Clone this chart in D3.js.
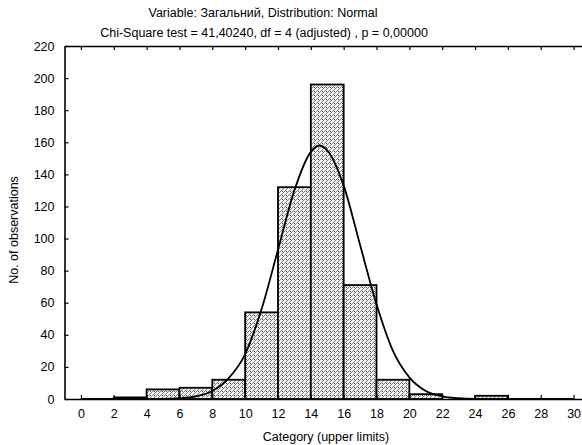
<!DOCTYPE html>
<html>
<head>
<meta charset="utf-8">
<script src="https://cdn.jsdelivr.net/npm/d3@7"></script>
<style>
  body { margin: 0; background: #fff; }
  text { font-family: "Liberation Sans", Arial, sans-serif; }
</style>
</head>
<body>
<svg id="chart" width="582" height="445"></svg>
<script>
// histogram bins (upper limits) and counts
const binEdges = [0, 2, 4, 6, 8, 10, 12, 14, 16, 18, 20, 22, 24, 26, 28, 30];
const counts = [0, 1, 6, 7, 12, 54, 132, 196, 71, 12, 3, 0, 2, 0, 0];

// expected normal curve
const curveX = [0, 4, 5, 6, 7, 8, 9, 10, 11, 12, 13, 14, 14.5, 15, 16, 17, 18, 19, 20, 21, 22, 23, 24, 26, 30];
const curveY = [0, 0, 0.1, 0.5, 1.7, 5, 13, 28, 56, 93, 130, 154, 158, 155, 133, 96, 59, 30, 13.5, 5, 1.7, 0.5, 0.1, 0, 0];

const xTicks = [0, 2, 4, 6, 8, 10, 12, 14, 16, 18, 20, 22, 24, 26, 28, 30];
const yTicks = [0, 20, 40, 60, 80, 100, 120, 140, 160, 180, 200, 220];

const title1 = 'Variable: Загальний, Distribution: Normal';
const title2 = 'Chi-Square test = 41,40240, df = 4 (adjusted) , p = 0,00000';

const svg = d3.select('#chart');

const x = d3.scaleLinear().domain([-1, 31]).range([64.5, 590]);
const y = d3.scaleLinear().domain([0, 220]).range([399, 46]);

// hatch pattern for bars
const defs = svg.append('defs');
const pat = defs.append('pattern')
  .attr('id', 'hatch')
  .attr('patternUnits', 'userSpaceOnUse')
  .attr('width', 4)
  .attr('height', 4);
pat.append('rect').attr('width', 4).attr('height', 4).attr('fill', '#f2f2f2');
pat.append('path')
  .attr('d', 'M-1,1 l2,-2 M0,4 l4,-4 M3,5 l2,-2')
  .attr('stroke', '#666')
  .attr('stroke-width', 0.8);
pat.append('rect').attr('x', 2).attr('y', 3).attr('width', 1).attr('height', 1).attr('fill', '#444');

// bars
svg.append('g')
  .selectAll('rect')
  .data(counts)
  .enter()
  .append('rect')
  .attr('x', (d, i) => x(binEdges[i]))
  .attr('y', d => y(d))
  .attr('width', (d, i) => x(binEdges[i + 1]) - x(binEdges[i]))
  .attr('height', d => y(0) - y(d))
  .attr('fill', 'url(#hatch)')
  .attr('stroke', '#000')
  .attr('stroke-width', 1.8)
  .style('display', d => d > 0 ? null : 'none');

// normal curve
const pts = curveX.map((v, i) => [v, curveY[i]]);
svg.append('path')
  .datum(pts)
  .attr('fill', 'none')
  .attr('stroke', '#000')
  .attr('stroke-width', 1.8)
  .attr('d', d3.line()
    .x(d => x(d[0]))
    .y(d => y(d[1]))
    .curve(d3.curveMonotoneX));

// axes (ticks point inward)
svg.append('g')
  .attr('transform', 'translate(0,' + y(0) + ')')
  .call(d3.axisBottom(x).tickValues(xTicks).tickSizeInner(-4).tickSizeOuter(0).tickPadding(10))
  .call(g => g.selectAll('text').attr('font-size', '12.5px').attr('fill', '#000').attr('font-family', '"Liberation Sans", Arial, sans-serif'));

svg.append('g')
  .attr('transform', 'translate(0,' + y(220) + ')')
  .call(d3.axisTop(x).tickValues(xTicks).tickSizeInner(-4).tickSizeOuter(0).tickFormat(''));

svg.append('g')
  .attr('transform', 'translate(' + x(-1) + ',0)')
  .call(d3.axisLeft(y).tickValues(yTicks).tickSizeInner(-4).tickSizeOuter(0).tickPadding(10))
  .call(g => g.selectAll('text').attr('font-size', '12.5px').attr('fill', '#000').attr('font-family', '"Liberation Sans", Arial, sans-serif'));

svg.selectAll('.domain').attr('stroke', '#000').attr('stroke-width', 1.6);
svg.selectAll('.tick line').attr('stroke', '#000').attr('stroke-width', 1.2);

// titles and axis labels
svg.append('text')
  .attr('x', 263).attr('y', 17)
  .attr('text-anchor', 'middle')
  .attr('font-size', '12.5px')
  .text(title1);

svg.append('text')
  .attr('x', 264).attr('y', 37)
  .attr('text-anchor', 'middle')
  .attr('font-size', '12.5px')
  .text(title2);

svg.append('text')
  .attr('x', 326).attr('y', 441)
  .attr('text-anchor', 'middle')
  .attr('font-size', '12.5px')
  .text('Category (upper limits)');

svg.append('text')
  .attr('transform', 'translate(18,230) rotate(-90)')
  .attr('text-anchor', 'middle')
  .attr('font-size', '12.5px')
  .text('No. of observations');
</script>
</body>
</html>
